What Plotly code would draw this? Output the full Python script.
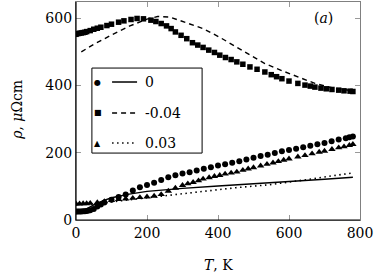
import plotly.graph_objects as go

# ---- data ----
# x = 0 : measured (circles) and model (solid)
T_c = [0, 5, 10, 15, 20, 25, 30, 35, 40, 50, 60, 70, 80, 100, 120, 140, 160, 180, 200, 220, 240, 260,
       280, 300, 320, 340, 360, 380, 400, 420, 440, 460, 480, 500, 520, 540, 560, 580, 600, 620,
       640, 660, 680, 700, 720, 740, 760, 770, 780]
rho_c = [25, 25, 25, 25, 26, 26, 27, 28, 29, 33, 40, 46, 52, 60, 68, 76, 88, 97, 104, 111, 119, 127,
         133, 138, 142, 147, 152, 157, 162, 166, 170, 175, 180, 185, 190, 194, 199, 204, 208, 212,
         216, 221, 225, 229, 234, 239, 243, 246, 248]
T_m0 = [0, 25, 50, 75, 100, 150, 200, 250, 300, 400, 500, 532, 600, 700, 780]
rho_m0 = [25, 30, 45, 57, 66, 77, 85, 90, 94, 101, 107, 110, 114, 121, 127]

# x = -0.04 : measured (squares) and model (dashed)
T_s = [0, 5, 10, 15, 20, 25, 30, 40, 50, 60, 70, 87, 100, 120, 135, 155, 172, 190, 211, 225, 240,
       255, 268, 280, 296, 312, 328, 343, 358, 374, 390, 405, 421, 437, 453, 470, 490, 510, 532,
       550, 565, 580, 600, 625, 645, 660, 673, 690, 705, 721, 740, 755, 772, 780]
rho_s = [552, 554, 555, 556, 557, 558, 560, 563, 567, 570, 573, 578, 582, 588, 592, 596, 599, 598, 594,
         590, 584, 577, 569, 559, 549, 539, 527, 520, 513, 505, 498, 490, 483, 477, 470, 463, 455,
         448, 440, 432, 426, 420, 413, 406, 401, 398, 395, 392, 390, 388, 386, 384, 383, 382]
T_m1 = [15, 50, 100, 150, 200, 230, 265, 300, 358, 405, 453, 509, 532, 580, 625, 673, 721, 780]
rho_m1 = [500, 522, 550, 576, 597, 605, 603, 591, 569, 543, 514, 480, 465, 444, 425, 406, 393, 384]

# x = 0.03 : measured (triangles) and model (dotted)
T_t = [0, 10, 20, 30, 40, 60, 80, 100, 120, 140, 160, 180, 200, 220, 240, 260, 280, 300, 315, 330,
       345, 358, 375, 390, 405, 420, 437, 453, 470, 485, 500, 520, 538, 555, 570, 585, 600, 625,
       645, 665, 685, 700, 721, 740, 755, 770, 780]
rho_t = [48, 48, 49, 49, 50, 52, 55, 58, 61, 63, 65, 67, 69, 71, 76, 86, 95, 103, 108, 112,
         117, 122, 126, 130, 133, 137, 140, 143, 148, 152, 156, 161, 166, 170, 174, 178, 182, 188,
         192, 197, 202, 205, 210, 215, 218, 222, 225]
T_m2 = [0, 50, 100, 150, 200, 265, 350, 450, 546, 600, 650, 700, 780]
rho_m2 = [45, 48, 54, 60, 65, 73, 85, 96, 105, 112, 120, 128, 140]

labels = ["0", "-0.04", "0.03"]
x_ticks = [0, 200, 400, 600, 800]
y_ticks = [0, 200, 400, 600]

FONT = "DejaVu Serif"
FS = 14
fig = go.Figure()

fig.add_trace(go.Scatter(x=T_m0, y=rho_m0, mode="lines", line=dict(color="black", width=1.4), showlegend=False))
fig.add_trace(go.Scatter(x=T_m1, y=rho_m1, mode="lines", line=dict(color="black", width=1.4, dash="5px,4px"), showlegend=False))
fig.add_trace(go.Scatter(x=T_m2, y=rho_m2, mode="lines", line=dict(color="black", width=1.6, dash="1.5px,3.5px"), showlegend=False))
fig.add_trace(go.Scatter(x=T_c, y=rho_c, mode="markers", marker=dict(symbol="circle", color="black", size=6), showlegend=False))
fig.add_trace(go.Scatter(x=T_s, y=rho_s, mode="markers", marker=dict(symbol="square", color="black", size=5.5), showlegend=False))
fig.add_trace(go.Scatter(x=T_t, y=rho_t, mode="markers", marker=dict(symbol="triangle-up", color="black", size=6.5), showlegend=False))

axis_common = dict(
    showgrid=False, zeroline=False, showline=True, linecolor="#808080", linewidth=1.2,
    mirror="ticks", ticks="inside", ticklen=5, tickcolor="#999999", tickwidth=1.2,
    tickfont=dict(family=FONT, size=FS, color="black"), automargin=False,
)
fig.update_xaxes(range=[0, 800], tickvals=x_ticks, **axis_common)
fig.update_yaxes(range=[0, 648], tickvals=y_ticks, **axis_common)

shapes = [
    dict(type="line", xref="paper", yref="paper", x0=0, x1=0, y0=0, y1=1, line=dict(color="black", width=1.2)),
    dict(type="line", xref="paper", yref="paper", x0=0, x1=1, y0=0, y1=0, line=dict(color="black", width=1.2)),
    # legend box
    dict(type="rect", xref="paper", yref="paper", x0=0.056, x1=0.444, y0=0.307, y1=0.697,
         line=dict(color="black", width=1), fillcolor="white", layer="above"),
]
annotations = []
leg_y = [0.633, 0.491, 0.353]
dashes = ["solid", "5px,4px", "1.5px,3.5px"]
glyphs = ["●", "■", "▲"]
for i in range(3):
    shapes.append(dict(type="line", xref="paper", yref="paper", x0=0.127, x1=0.215, y0=leg_y[i], y1=leg_y[i],
                       line=dict(color="black", width=1.5, dash=dashes[i]), layer="above"))
    annotations.append(dict(xref="paper", yref="paper", x=0.077, y=leg_y[i], text=glyphs[i], showarrow=False,
                            font=dict(family="DejaVu Sans", size=8, color="black"), xanchor="center", yanchor="middle"))
    annotations.append(dict(xref="paper", yref="paper", x=0.235, y=leg_y[i], text=labels[i], showarrow=False,
                            font=dict(family=FONT, size=FS, color="black"), xanchor="left", yanchor="middle"))
annotations.append(dict(xref="paper", yref="paper", x=0.87, y=0.927, text="(<i>a</i>)", showarrow=False,
                        font=dict(family=FONT, size=FS, color="black"), xanchor="center", yanchor="middle"))
# axis titles
annotations.append(dict(xref="paper", yref="paper", x=0.5, y=-0.205, text="<i>T</i>, K", showarrow=False,
                        font=dict(family=FONT, size=FS, color="black"), xanchor="center", yanchor="middle"))
annotations.append(dict(xref="paper", yref="paper", x=-0.208, y=0.505, text="<i>ρ</i>, <i>μ</i>Ωcm", showarrow=False,
                        textangle=-90, font=dict(family=FONT, size=FS, color="black"), xanchor="center", yanchor="middle"))

fig.update_layout(
    width=382, height=279, margin=dict(l=76, r=22, t=2, b=59),
    paper_bgcolor="white", plot_bgcolor="white",
    shapes=shapes, annotations=annotations, showlegend=False,
)
fig.write_html("out.html", config={"displayModeBar": False}, post_script="document.body.style.margin='0';")
